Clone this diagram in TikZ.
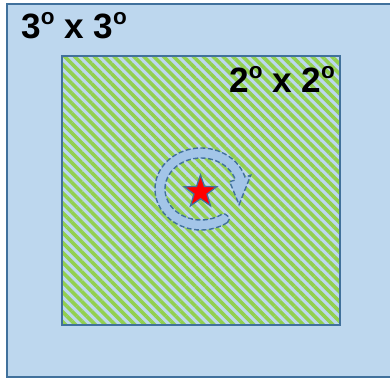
\documentclass[tikz,border=0pt]{standalone}
\usepackage{fontspec}
\setmainfont{Liberation Sans}
\usetikzlibrary{arrows.meta,positioning,calc,patterns.meta,shapes.geometric}
\definecolor{SkyFill}{RGB}{189,215,238}
\definecolor{EdgeBlue}{RGB}{65,113,156}
\definecolor{HatchGreen}{RGB}{146,208,80}
\definecolor{SpinFill}{RGB}{163,197,232}
\newcommand{\ordo}{\raisebox{9.5pt}{\fontsize{16}{16}\selectfont o}}

\begin{document}
\begin{tikzpicture}[x=0.025cm, y=0.025cm,
    fovlabel/.style={anchor=base west, inner sep=0pt, font=\bfseries\fontsize{25}{30}\selectfont}]
      \useasboundingbox (0,0) rectangle (390,378);
      % fields of view
      \node[draw=EdgeBlue, fill=SkyFill, line width=1.4pt, inner sep=0pt,
            minimum width=9.775cm, minimum height=9.325cm] (fovouter) at (202.5,187.5) {};
      \node[draw=EdgeBlue, line width=1pt, inner sep=0pt, preaction={fill=SkyFill},
            pattern={Lines[angle=-45, distance=0.175cm, line width=0.09cm]}, pattern color=HatchGreen,
            minimum width=6.95cm, minimum height=6.725cm] (fovinner) at (201,187.5) {};
      \node[fovlabel] (outerlabel) at (21,340) {3\ordo\ x 3\ordo};
      \node[fovlabel] (innerlabel) at (229,286) {2\ordo\ x 2\ordo};
      % rotation
      \coordinate (spin) at (201,189);
      \draw[EdgeBlue, fill=SpinFill, line width=1pt, dash pattern=on 3.5pt off 1.8pt]
        ($(spin)+(-55:46 and 41)$)
        arc[start angle=-55, end angle=-343, x radius=46, y radius=41]
        -- ($(spin)+(-343:52 and 47)$)
        -- ($(spin)+(-385:42 and 37)$)
        -- ($(spin)+(-343:30 and 25)$)
        -- ($(spin)+(-343:36 and 31)$)
        arc[start angle=-343, end angle=-55, x radius=36, y radius=31]
        .. controls ($(spin)+(-47:36 and 31)$) and ($(spin)+(-47:46 and 41)$) .. cycle;
      \node[star, star points=5, star point ratio=2.5, minimum size=0.85cm, inner sep=0pt,
            fill=red, draw=EdgeBlue, line width=0.9pt] (target) at (200.5,186) {};
    \end{tikzpicture}
\end{document}
